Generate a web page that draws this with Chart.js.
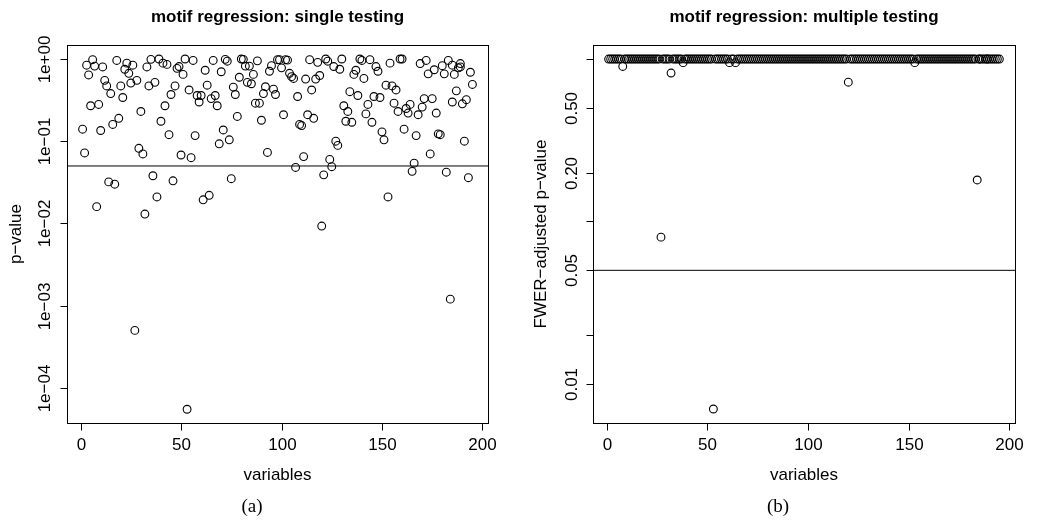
<!DOCTYPE html>
<html>
<head>
<meta charset="utf-8">
<script src="https://cdn.jsdelivr.net/npm/chart.js@4.4.1/dist/chart.umd.min.js"></script>
<style>
  html, body { margin: 0; padding: 0; background: #fff; }
  #wrap { position: relative; width: 1037px; height: 521px; }
  canvas { position: absolute; top: 0; }
  #left { left: 0; }
  #right { left: 518px; }
</style>
</head>
<body>
<div id="wrap">
  <canvas id="left" width="518" height="521"></canvas>
  <canvas id="right" width="519" height="521"></canvas>
</div>
<script>
// variable index of each point
const variables = [
  1, 2, 3, 4, 5, 6, 7, 8, 9, 10,
  11, 12, 13, 14, 15, 16, 17, 18, 19, 20,
  21, 22, 23, 24, 25, 26, 27, 28, 29, 30,
  31, 32, 33, 34, 35, 36, 37, 38, 39, 40,
  41, 42, 43, 44, 45, 46, 47, 48, 49, 50,
  51, 52, 53, 54, 55, 56, 57, 58, 59, 60,
  61, 62, 63, 64, 65, 66, 67, 68, 69, 70,
  71, 72, 73, 74, 75, 76, 77, 78, 79, 80,
  81, 82, 83, 84, 85, 86, 87, 88, 89, 90,
  91, 92, 93, 94, 95, 96, 97, 98, 99, 100,
  101, 102, 103, 104, 105, 106, 107, 108, 109, 110,
  111, 112, 113, 114, 115, 116, 117, 118, 119, 120,
  121, 122, 123, 124, 125, 126, 127, 128, 129, 130,
  131, 132, 133, 134, 135, 136, 137, 138, 139, 140,
  141, 142, 143, 144, 145, 146, 147, 148, 149, 150,
  151, 152, 153, 154, 155, 156, 157, 158, 159, 160,
  161, 162, 163, 164, 165, 166, 167, 168, 169, 170,
  171,
  172, 173, 174, 175, 176, 177, 178, 179, 180, 181,
  182, 183, 184, 185, 185, 186, 187, 188, 189, 189,
  190, 191, 192, 193, 194, 195
];

// raw p-values, panel (a)
const pRaw = [
  0.14, 0.072, 0.84, 0.64, 0.27, 0.98, 0.82, 0.016, 0.28, 0.135,
  0.80, 0.55, 0.47, 0.032, 0.38, 0.16, 0.030, 0.96, 0.19, 0.47,
  0.34, 0.75, 0.89, 0.67, 0.51, 0.84, 0.0005, 0.55, 0.082, 0.23,
  0.070, 0.013, 0.80, 0.47, 0.99, 0.038, 0.52, 0.021, 1.0, 0.175,
  0.89, 0.27, 0.86, 0.12, 0.37, 0.033, 0.47, 0.77, 0.81, 0.068,
  0.65, 1.0, 0.000055, 0.42, 0.063, 0.96, 0.117, 0.36, 0.30, 0.36,
  0.0194, 0.73, 0.48, 0.022, 0.33, 0.96, 0.36, 0.27, 0.093, 0.70,
  0.137, 0.99, 0.94, 0.104, 0.035, 0.455, 0.37, 0.20, 0.60, 1.0,
  0.99, 0.82, 0.52, 0.82, 0.50, 0.65, 0.29, 0.95, 0.29, 0.18,
  0.38, 0.46, 0.073, 0.71, 0.83, 0.43, 0.37, 0.98, 0.98, 0.78,
  0.21, 0.98, 0.97, 0.67, 0.61, 0.58, 0.048, 0.35, 0.16, 0.155,
  0.065, 0.57, 0.21, 0.98, 0.42, 0.19, 0.57, 0.91, 0.63, 0.0093,
  0.039, 1.0, 0.94, 0.060, 0.049, 0.81, 0.10, 0.089, 0.75, 1.0,
  0.27, 0.175, 0.23, 0.40, 0.17, 0.65, 0.73, 0.36, 1.0, 0.96,
  0.58, 0.215, 0.28, 0.98, 0.17, 0.35, 0.81, 0.71, 0.34, 0.13,
  0.104, 0.48, 0.021, 0.89, 0.47, 0.29, 0.42, 0.23, 1.0, 1.0,
  0.14, 0.25, 0.22, 0.28, 0.043, 0.054, 0.117, 0.21, 0.88, 0.26,
  0.33,
  0.96, 0.66, 0.070, 0.33, 0.74, 0.22, 0.123, 0.12, 0.83, 0.66,
  0.042, 0.96, 0.0012, 0.84, 0.30, 0.65, 0.41, 0.78, 0.88, 0.80,
  0.285, 0.10, 0.32, 0.036, 0.69, 0.49
];

// FWER-adjusted p-values, panel (b)
const pAdj = [
  1, 1, 1, 1, 1, 1, 1, 0.90, 1, 1,
  1, 1, 1, 1, 1, 1, 1, 1, 1, 1,
  1, 1, 1, 1, 1, 1, 0.080, 1, 1, 1,
  1, 0.82, 1, 1, 1, 1, 1, 0.95, 1, 1,
  1, 1, 1, 1, 1, 1, 1, 1, 1, 1,
  1, 1, 0.0070, 1, 1, 1, 1, 1, 1, 1,
  0.95, 1, 1, 0.95, 1, 1, 1, 1, 1, 1,
  1, 1, 1, 1, 1, 1, 1, 1, 1, 1,
  1, 1, 1, 1, 1, 1, 1, 1, 1, 1,
  1, 1, 1, 1, 1, 1, 1, 1, 1, 1,
  1, 1, 1, 1, 1, 1, 1, 1, 1, 1,
  1, 1, 1, 1, 1, 1, 1, 1, 1, 0.72,
  1, 1, 1, 1, 1, 1, 1, 1, 1, 1,
  1, 1, 1, 1, 1, 1, 1, 1, 1, 1,
  1, 1, 1, 1, 1, 1, 1, 1, 1, 1,
  1, 1, 0.95, 1, 1, 1, 1, 1, 1, 1,
  1, 1, 1, 1, 1, 1, 1, 1, 1, 1,
  1,
  1, 1, 1, 1, 1, 1, 1, 1, 1, 1,
  1, 1, 0.18, 1, 1, 1, 1, 1, 1, 1,
  1, 1, 1, 1, 1, 1
];

const xTicks = [0, 50, 100, 150, 200];
const rawTicks = [1, 0.1, 0.01, 0.001, 0.0001];
const rawTickLabels = ['1e+00', '1e\u221201', '1e\u221202', '1e\u221203', '1e\u221204'];
const adjTicks = [0.01, 0.02, 0.05, 0.1, 0.2, 0.5, 1];
const adjTickLabels = ['0.01', '', '0.05', '', '0.20', '0.50', ''];
const cutoff = 0.05;

const SANS = '"Liberation Sans", Arial, Helvetica, sans-serif';
const SERIF = '"Liberation Serif", "Times New Roman", serif';

// Box, ticks, rotated labels and titles in the style of base R graphics.
const rFrame = {
  id: 'rFrame',
  afterDraw(chart, args, o) {
    const ctx = chart.ctx;
    const a = chart.chartArea;
    const xs = chart.scales.x;
    const ys = chart.scales.y;
    const L = Math.round(a.left) + 0.5, R = Math.round(a.right) + 0.5;
    const T = Math.round(a.top) + 0.5, B = Math.round(a.bottom) + 0.5;
    const midX = (a.left + a.right) / 2, midY = (a.top + a.bottom) / 2;

    ctx.save();
    ctx.strokeStyle = '#000';
    ctx.fillStyle = '#000';
    ctx.lineWidth = 1;
    ctx.strokeRect(L, T, R - L, B - T);

    ctx.font = '17px ' + SANS;
    ctx.textAlign = 'center';
    ctx.textBaseline = 'alphabetic';
    xTicks.forEach(function (v) {
      const px = Math.round(xs.getPixelForValue(v)) + 0.5;
      ctx.beginPath(); ctx.moveTo(px, B); ctx.lineTo(px, B + 7); ctx.stroke();
      ctx.fillText(String(v), px, 450);
    });

    o.yTicks.forEach(function (v, i) {
      const py = Math.round(ys.getPixelForValue(v)) + 0.5;
      ctx.beginPath(); ctx.moveTo(L, py); ctx.lineTo(L - 7, py); ctx.stroke();
      const lab = o.yLabels[i];
      if (lab) {
        ctx.save();
        ctx.translate(o.yLabelX, py);
        ctx.rotate(-Math.PI / 2);
        ctx.fillText(lab, 0, 0);
        ctx.restore();
      }
    });

    ctx.fillText('variables', midX, 480);

    ctx.save();
    ctx.translate(o.yTitleX, midY);
    ctx.rotate(-Math.PI / 2);
    ctx.fillText(o.yTitle, 0, 0);
    ctx.restore();

    ctx.font = 'bold 17px ' + SANS;
    ctx.fillText(o.title, midX, 22);

    ctx.font = '19px ' + SERIF;
    ctx.fillText(o.caption, o.captionX, 512);
    ctx.restore();
  }
};

function makePanel(canvasId, values, yMin, yMax, padding, frameOpts) {
  const points = variables.map(function (v, i) { return { x: v, y: values[i] }; });
  const xMin = -6.76, xMax = 202.76;
  return new Chart(document.getElementById(canvasId), {
    type: 'scatter',
    data: {
      datasets: [
        {
          data: points,
          pointStyle: 'circle',
          pointRadius: 3.9,
          pointHoverRadius: 3.9,
          borderWidth: 1.1,
          borderColor: '#000',
          backgroundColor: 'rgba(0,0,0,0)'
        },
        {
          type: 'line',
          data: [{ x: xMin, y: cutoff }, { x: xMax, y: cutoff }],
          borderColor: '#000',
          borderWidth: 1,
          pointRadius: 0,
          fill: false
        }
      ]
    },
    options: {
      responsive: false,
      animation: false,
      events: [],
      layout: { padding: padding },
      plugins: {
        legend: { display: false },
        tooltip: { enabled: false },
        rFrame: frameOpts
      },
      scales: {
        x: { type: 'linear', min: xMin, max: xMax, display: false },
        y: { type: 'logarithmic', min: yMin, max: yMax, display: false }
      }
    },
    plugins: [rFrame]
  });
}

makePanel('left', pRaw, 3.74e-5, 1.48,
  { left: 67, right: 30, top: 45, bottom: 98 },
  {
    yTicks: rawTicks, yLabels: rawTickLabels, yLabelX: 50,
    yTitle: 'p\u2212value', yTitleX: 21,
    title: 'motif regression: single testing',
    caption: '(a)', captionX: 252
  });

makePanel('right', pAdj, 0.00574, 1.22,
  { left: 75, right: 22, top: 45, bottom: 98 },
  {
    yTicks: adjTicks, yLabels: adjTickLabels, yLabelX: 58.5,
    yTitle: 'FWER\u2212adjusted p\u2212value', yTitleX: 27.5,
    title: 'motif regression: multiple testing',
    caption: '(b)', captionX: 260
  });
</script>
</body>
</html>
